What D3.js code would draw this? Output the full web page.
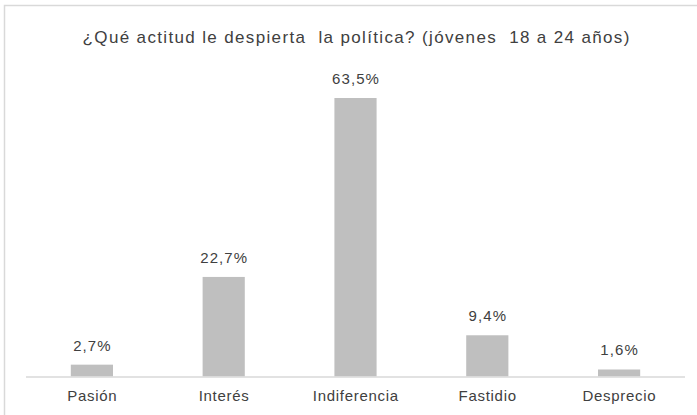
<!DOCTYPE html>
<html>
<head>
<meta charset="utf-8">
<script src="https://cdn.jsdelivr.net/npm/d3@7"></script>
<style>
  html, body { margin: 0; padding: 0; background: #ffffff; }
  svg { display: block; }
  text { font-family: "Liberation Sans", Arial, sans-serif; fill: #404040; }
</style>
</head>
<body>
<svg id="chart" width="697" height="415"></svg>
<script>
// Survey answers: attitude toward politics, young people aged 18–24
const categories = ["Pasión", "Interés", "Indiferencia", "Fastidio", "Desprecio"];
const values = [2.7, 22.7, 63.5, 9.4, 1.6];
const valueLabels = ["2,7%", "22,7%", "63,5%", "9,4%", "1,6%"];
const title = "¿Qué actitud le despierta  la política? (jóvenes  18 a 24 años)";

const W = 697, H = 415;
const plot = { left: 26, right: 685, top: 98, bottom: 376.5 };

const svg = d3.select("#chart");

// outer frame of the chart area
svg.append("rect")
  .attr("x", 4.5).attr("y", 5.5)
  .attr("width", W + 10).attr("height", H + 10)
  .attr("fill", "none")
  .attr("stroke", "#d9d9d9")
  .attr("stroke-width", 1.5);

const x = d3.scaleBand()
  .domain(categories)
  .range([plot.left, plot.right])
  .paddingInner(0.68)
  .paddingOuter(0.34);

const y = d3.scaleLinear()
  .domain([0, 63.5])
  .range([plot.bottom, plot.top]);

// bars
svg.append("g")
  .selectAll("rect")
  .data(values)
  .join("rect")
  .attr("x", (d, i) => x(categories[i]))
  .attr("y", d => y(d))
  .attr("width", x.bandwidth())
  .attr("height", d => y(0) - y(d))
  .attr("fill", "#bfbfbf");

// category axis line
svg.append("line")
  .attr("x1", plot.left).attr("x2", plot.right)
  .attr("y1", plot.bottom + 0.5).attr("y2", plot.bottom + 0.5)
  .attr("stroke", "#d9d9d9")
  .attr("stroke-width", 1.5);

// category labels
const catSpacing = 0.7;
svg.append("g")
  .selectAll("text")
  .data(categories)
  .join("text")
  .attr("x", d => x(d) + x.bandwidth() / 2 + catSpacing / 2)
  .attr("y", plot.bottom + 24.5)
  .attr("text-anchor", "middle")
  .attr("font-size", 15)
  .attr("letter-spacing", catSpacing)
  .text(d => d);

// value labels above bars
const valSpacing = 1.1;
svg.append("g")
  .selectAll("text")
  .data(values)
  .join("text")
  .attr("x", (d, i) => x(categories[i]) + x.bandwidth() / 2 + valSpacing / 2)
  .attr("y", d => y(d) - 14)
  .attr("text-anchor", "middle")
  .attr("font-size", 15)
  .attr("letter-spacing", valSpacing)
  .text((d, i) => valueLabels[i]);

// title
const titleSpacing = 1.35;
svg.append("text")
  .attr("x", 356 + titleSpacing / 2)
  .attr("y", 43)
  .attr("text-anchor", "middle")
  .attr("font-size", 17)
  .attr("letter-spacing", titleSpacing)
  .style("white-space", "pre")
  .text(title);
</script>
</body>
</html>
